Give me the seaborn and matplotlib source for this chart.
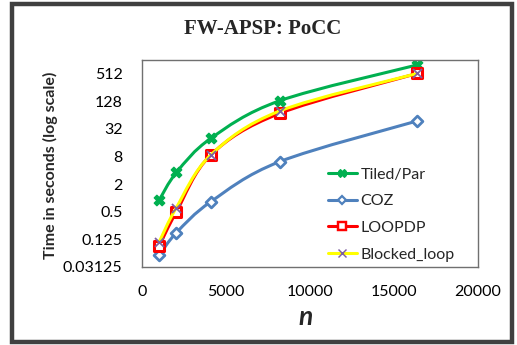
import numpy as np
import pandas as pd
import seaborn as sns
import matplotlib
matplotlib.use("Agg")
import matplotlib.pyplot as plt
from matplotlib.path import Path
from matplotlib.patches import PathPatch, Rectangle
from matplotlib.lines import Line2D
from matplotlib.ticker import FixedLocator, FixedFormatter, NullLocator

# ---- data -------------------------------------------------------------
n_values = [1024, 2048, 4096, 8192, 16384]
tiled_par = [0.9, 3.6, 20, 132, 800]
coz = [0.057, 0.175, 0.83, 6.2, 48]
loopdp = [0.09, 0.50, 8.7, 70, 520]
blocked_loop = [0.11, 0.62, 8.7, 79, 520]

series_names = ["Tiled/Par", "COZ", "LOOPDP", "Blocked_loop"]
y_tick_values = [0.03125, 0.125, 0.5, 2, 8, 32, 128, 512]
y_tick_labels = ["0.03125", "0.125", "0.5", "2", "8", "32", "128", "512"]
x_tick_values = [0, 5000, 10000, 15000, 20000]

df = pd.DataFrame({
    "n": n_values * 4,
    "time": tiled_par + coz + loopdp + blocked_loop,
    "series": np.repeat(series_names, len(n_values)),
})

# ---- style ------------------------------------------------------------
sns.set_theme(style="white")
plt.rcParams["font.family"] = ["Lato", "DejaVu Sans"]

styles = {
    "Tiled/Par": dict(line="#00B050", marker="X", mfc="#00B050", mec="#00B050", ms=7.5, mew=1.0),
    "COZ": dict(line="#4F81BD", marker="D", mfc="white", mec="#4F81BD", ms=5.5, mew=2.0),
    "LOOPDP": dict(line="#FF0000", marker="s", mfc="white", mec="#FF0000", ms=7, mew=2.2),
    "Blocked_loop": dict(line="#FFFF00", marker="x", mfc="#7F60A0", mec="#7F60A0", ms=6.5, mew=1.3),
}

fig = plt.figure(figsize=(5.17, 3.45), dpi=100)
fig.patch.set_facecolor("white")
ax = fig.add_axes([142 / 517, 1 - 267 / 345, 336 / 517, 207 / 345])

ax.set_xscale("linear")
ax.set_yscale("log", base=2)
ax.set_xlim(0, 20000)
ax.set_ylim(2 ** -5, 2 ** 10)


def smooth_path(xs, ys):
    """Bezier path through the points, smoothed in (x, log2 y) space."""
    px = np.asarray(xs, float)
    py = np.log2(np.asarray(ys, float))
    verts = [(px[0], 2 ** py[0])]
    codes = [Path.MOVETO]
    n = len(px)
    for i in range(n - 1):
        i0 = max(i - 1, 0)
        i3 = min(i + 2, n - 1)
        c1x = px[i] + (px[i + 1] - px[i0]) / 6
        c1y = py[i] + (py[i + 1] - py[i0]) / 6
        c2x = px[i + 1] - (px[i3] - px[i]) / 6
        c2y = py[i + 1] - (py[i3] - py[i]) / 6
        verts += [(c1x, 2 ** c1y), (c2x, 2 ** c2y), (px[i + 1], 2 ** py[i + 1])]
        codes += [Path.CURVE4] * 3
    return Path(verts, codes)


z = 2
for name in series_names:
    st = styles[name]
    sub = df[df["series"] == name]
    patch = PathPatch(smooth_path(sub["n"], sub["time"]), fill=False,
                      edgecolor=st["line"], lw=2.2, zorder=z, capstyle="round")
    ax.add_patch(patch)
    sns.scatterplot(data=sub, x="n", y="time", ax=ax, marker=st["marker"],
                    s=st["ms"] ** 2, facecolor=st["mfc"], edgecolor=st["mec"],
                    linewidth=st["mew"], zorder=z + 0.5, legend=False)
    z += 1

ax.set_xlabel("")
ax.set_ylabel("")
ax.xaxis.set_major_locator(FixedLocator(x_tick_values))
ax.set_xticklabels([str(v) for v in x_tick_values])
ax.yaxis.set_major_locator(FixedLocator(y_tick_values))
ax.yaxis.set_major_formatter(FixedFormatter(y_tick_labels))
ax.yaxis.set_minor_locator(NullLocator())
ax.tick_params(axis="y", length=0, pad=14, labelsize=11.5, labelcolor="black")
ax.tick_params(axis="x", length=0, pad=13, labelsize=11.5, labelcolor="black")

for sp in ax.spines.values():
    sp.set_color("#707070")
    sp.set_linewidth(1.0)

# legend
handles = []
for name in series_names:
    st = styles[name]
    handles.append(Line2D([0], [0], color=st["line"], lw=2.2, marker=st["marker"],
                          markersize=st["ms"] * 0.8, markerfacecolor=st["mfc"],
                          markeredgecolor=st["mec"], markeredgewidth=st["mew"] * 0.8))
leg = fig.legend(handles, series_names, loc="center left",
                 bbox_to_anchor=(328 / 517, 1 - 214.5 / 345), frameon=False,
                 fontsize=11.5, handlelength=1.8, handletextpad=0.25,
                 labelspacing=0.78, borderpad=0, borderaxespad=0)

# titles and axis labels
fig.text(263 / 517, 1 - 29 / 345, "FW-APSP: PoCC", ha="center", va="center",
         fontsize=15, fontweight="bold", family=["Liberation Serif", "DejaVu Serif"])
fig.text(50 / 517, 1 - 165 / 345, "Time in seconds (log scale)", ha="center",
         va="center", rotation=90, fontsize=11.5, fontweight="bold")
fig.text(306 / 517, 1 - 317 / 345, "n", ha="center", va="center",
         fontsize=19, fontweight="bold", style="italic")

# chart border
fig.patches.append(Rectangle((12 / 517, 1 - 342 / 345), 500 / 517, 338 / 345,
                             transform=fig.transFigure, fill=False,
                             edgecolor="#404040", lw=3.2))

fig.savefig("out.png", dpi=100)
